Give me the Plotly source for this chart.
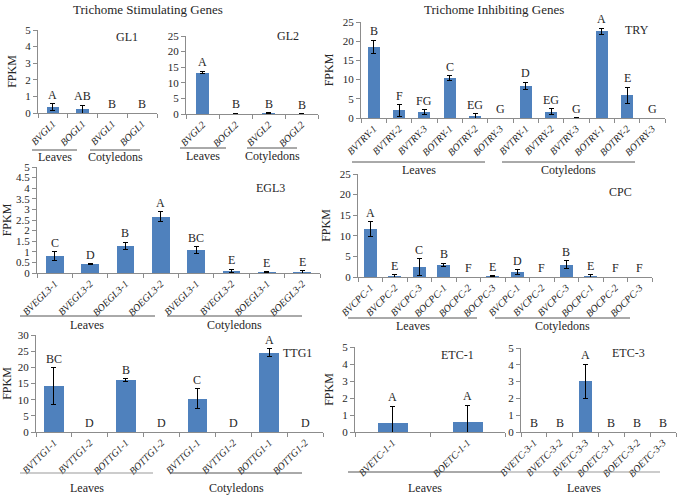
import plotly.graph_objects as go

W, H = 678, 496
BAR = "#4F81BD"
AX = "#8C8C8C"
TXT = "#262626"
SERIF = "Liberation Serif, Times New Roman, serif"

# ---------------- data ----------------
gl1_cats = ["BVGL1", "BOGL1", "BVGL1", "BOGL1"]
gl1_vals = [0.35, 0.22, 0.0, 0.0]
gl1_errs = [0.2, 0.24, 0.0, 0.0]
gl1_lets = ["A", "AB", "B", "B"]

gl2_cats = ["BVGL2", "BOGL2", "BVGL2", "BOGL2"]
gl2_vals = [13.3, 0.12, 0.3, 0.1]
gl2_errs = [0.4, 0.05, 0.1, 0.05]
gl2_lets = ["A", "B", "B", "B"]

try_cats = ["BVTRY-1", "BVTRY-2", "BVTRY-3", "BOTRY-1", "BOTRY-2", "BOTRY-3",
            "BVTRY-1", "BVTRY-2", "BVTRY-3", "BOTRY-1", "BOTRY-2", "BOTRY-3"]
try_vals = [18.5, 2.0, 1.6, 10.4, 0.5, 0.0, 8.3, 1.65, 0.05, 22.6, 5.9, 0.0]
try_errs = [1.8, 1.5, 0.6, 0.6, 0.6, 0.0, 1.0, 0.7, 0.0, 0.8, 2.1, 0.0]
try_lets = ["B", "F", "FG", "C", "EG", "G", "D", "EG", "G", "A", "E", "G"]

egl3_cats = ["BVEGL3-1", "BVEGL3-2", "BOEGL3-1", "BOEGL3-2",
             "BVEGL3-1", "BVEGL3-2", "BOEGL3-1", "BOEGL3-2"]
egl3_vals = [0.81, 0.42, 1.28, 2.66, 1.09, 0.10, 0.03, 0.05]
egl3_errs = [0.2, 0.01, 0.16, 0.23, 0.16, 0.08, 0.02, 0.06]
egl3_lets = ["C", "D", "B", "A", "BC", "E", "E", "E"]

cpc_cats = ["BVCPC-1", "BVCPC-2", "BVCPC-3", "BOCPC-1", "BOCPC-2", "BOCPC-3",
            "BVCPC-1", "BVCPC-2", "BVCPC-3", "BOCPC-1", "BOCPC-2", "BOCPC-3"]
cpc_vals = [11.6, 0.15, 2.35, 3.0, 0.0, 0.15, 1.2, 0.0, 3.0, 0.3, 0.0, 0.0]
cpc_errs = [1.8, 0.4, 2.1, 0.35, 0.0, 0.1, 0.55, 0.0, 0.95, 0.3, 0.0, 0.0]
cpc_lets = ["A", "E", "C", "B", "F", "E", "D", "F", "B", "E", "F", "F"]

ttg1_cats = ["BVTTG1-1", "BVTTG1-2", "BOTTG1-1", "BOTTG1-2",
             "BVTTG1-1", "BVTTG1-2", "BOTTG1-1", "BOTTG1-2"]
ttg1_vals = [14.2, 0.0, 16.0, 0.0, 10.3, 0.0, 24.5, 0.0]
ttg1_errs = [5.6, 0.0, 0.5, 0.0, 3.1, 0.0, 1.3, 0.0]
ttg1_lets = ["BC", "D", "B", "D", "C", "D", "A", "D"]

etc1_cats = ["BVETC-1-1", "BOETC-1-1"]
etc1_vals = [0.52, 0.58]
etc1_errs = [1.0, 1.0]
etc1_lets = ["A", "A"]

etc3_cats = ["BVETC-3-1", "BVETC-3-2", "BVETC-3-3", "BOETC-3-1", "BOETC-3-2", "BOETC-3-3"]
etc3_vals = [0.0, 0.0, 3.02, 0.0, 0.0, 0.0]
etc3_errs = [0.0, 0.0, 1.0, 0.0, 0.0, 0.0]
etc3_lets = ["B", "B", "A", "B", "B", "B"]

# ---------------- helpers ----------------
def fx(px):
    return px / W

def fy(py):
    return 1 - py / H

fig = go.Figure()
annotations = []
shapes = []
layout = {}


def add_panel(idx, cats, vals, errs, lets, box, yr, dtick, ytitle, gene, gene_pos, bw=0.5):
    x0, x1, ytop, yzero = box
    xname = "x" if idx == 1 else f"x{idx}"
    yname = "y" if idx == 1 else f"y{idx}"
    n = len(cats)
    pos = list(range(n))
    fig.add_trace(go.Bar(
        x=pos, y=vals, width=bw, marker=dict(color=BAR, line=dict(width=0)),
        error_y=dict(type="data", array=[e if e > 0 else None for e in errs],
                     color="black", thickness=1, width=2.5, visible=True),
        xaxis=xname, yaxis=yname, showlegend=False, hoverinfo="skip"))
    kx = "xaxis" if idx == 1 else f"xaxis{idx}"
    ky = "yaxis" if idx == 1 else f"yaxis{idx}"
    layout[kx] = dict(
        domain=[fx(x0), fx(x1)], anchor=yname, range=[-0.5, n - 0.5],
        automargin=False,
        tickmode="array", tickvals=pos, ticktext=[f"<i>{c}</i>" for c in cats],
        tickangle=-45, ticks="",
        showline=True, linecolor=AX, linewidth=1,
        showgrid=False, zeroline=False,
        tickfont=dict(family=SERIF, size=10, color=TXT),
        minor=dict(tickmode="array", tickvals=[p - 0.5 for p in pos] + [n - 0.5],
                   ticks="outside", ticklen=4, tickcolor=AX, showgrid=False),
        fixedrange=True)
    layout[ky] = dict(
        domain=[fy(yzero), fy(ytop)], anchor=xname, range=yr,
        automargin=False,
        tickmode="linear", tick0=0, dtick=dtick, ticks="outside", ticklen=4,
        tickcolor=AX, showline=True, linecolor=AX, linewidth=1,
        showgrid=False, zeroline=False,
        tickfont=dict(family=SERIF, size=11, color=TXT),
        title=dict(text="FPKM" if ytitle else "", standoff=6,
                   font=dict(family=SERIF, size=12, color=TXT)),
        fixedrange=True)
    for i in pos:
        annotations.append(dict(
            x=i, y=vals[i] + errs[i], xref=xname, yref=yname,
            text=lets[i], showarrow=False, yanchor="bottom", yshift=0,
            font=dict(family=SERIF, size=12, color=TXT)))
    annotations.append(dict(
        x=fx(gene_pos[0]), y=fy(gene_pos[1]), xref="paper", yref="paper",
        text=gene, showarrow=False, xanchor="center", yanchor="middle",
        font=dict(family=SERIF, size=12, color=TXT)))


add_panel(1, gl1_cats, gl1_vals, gl1_errs, gl1_lets, (38, 157, 30, 113), [0, 5], 1, True, "GL1", (127, 37), 0.42)
add_panel(2, gl2_cats, gl2_vals, gl2_errs, gl2_lets, (186, 318, 36, 114), [0, 25], 5, False, "GL2", (288, 36), 0.42)
add_panel(3, try_cats, try_vals, try_errs, try_lets, (361, 665, 22, 118), [0, 25], 5, True, "TRY", (637, 30), 0.48)
add_panel(4, egl3_cats, egl3_vals, egl3_errs, egl3_lets, (37, 320, 167, 273), [0, 5], 0.5, True, "EGL3", (270, 188), 0.5)
add_panel(5, cpc_cats, cpc_vals, cpc_errs, cpc_lets, (358, 652, 174, 277), [0, 25], 5, True, "CPC", (620, 192), 0.52)
add_panel(6, ttg1_cats, ttg1_vals, ttg1_errs, ttg1_lets, (36, 323, 335, 432), [0, 30], 5, True, "TTG1", (297, 353), 0.55)
add_panel(7, etc1_cats, etc1_vals, etc1_errs, etc1_lets, (355, 505, 347, 432), [0, 5], 1, True, "ETC-1", (457, 355), 0.4)
add_panel(8, etc3_cats, etc3_vals, etc3_errs, etc3_lets, (521, 676, 348, 432), [0, 5], 1, False, "ETC-3", (628, 353), 0.5)

# group underlines: (x0, x1, line_y, text, text_y, color)
groups = [
    (32, 77, 150, "Leaves", 157, "#555"),
    (90, 140, 150, "Cotyledons", 157, "#555"),
    (180, 226, 148, "Leaves", 156, "#555"),
    (247, 297, 148, "Cotyledons", 156, "#555"),
    (352, 485, 162, "Leaves", 170, "#555"),
    (502, 635, 162, "Cotyledons", 170, "#555"),
    (20, 155, 316, "Leaves", 325, "#555"),
    (167, 302, 316, "Cotyledons", 325, "#555"),
    (348, 477, 318, "Leaves", 326, "#555"),
    (495, 630, 318, "Cotyledons", 326, "#555"),
    (20, 153, 473, "Leaves", 488, "#999"),
    (170, 302, 473, "Cotyledons", 488, "#555"),
    (348, 502, 472, "Leaves", 488, "#555"),
    (507, 660, 472, "Leaves", 488, "#999"),
]
for gx0, gx1, gy, gt, ty, gc in groups:
    shapes.append(dict(type="line", xref="paper", yref="paper",
                       x0=fx(gx0), x1=fx(gx1), y0=fy(gy), y1=fy(gy),
                       line=dict(color=gc, width=1)))
    annotations.append(dict(x=fx((gx0 + gx1) / 2), y=fy(ty), xref="paper", yref="paper",
                            text=gt, showarrow=False, xanchor="center", yanchor="middle",
                            font=dict(family=SERIF, size=12, color=TXT)))

annotations.append(dict(x=fx(148), y=fy(9), xref="paper", yref="paper",
                        text="Trichome Stimulating Genes", showarrow=False,
                        xanchor="center", yanchor="middle",
                        font=dict(family=SERIF, size=13, color=TXT)))
annotations.append(dict(x=fx(494), y=fy(9), xref="paper", yref="paper",
                        text="Trichome Inhibiting Genes", showarrow=False,
                        xanchor="center", yanchor="middle",
                        font=dict(family=SERIF, size=13, color=TXT)))

fig.update_layout(
    width=W, height=H, margin=dict(l=0, r=0, t=0, b=0, autoexpand=False),
    paper_bgcolor="white", plot_bgcolor="white",
    annotations=annotations, shapes=shapes, bargap=0, **layout)

fig.write_html("out.html", config={"displayModeBar": False, "staticPlot": True},
               post_script="document.body.style.margin='0px';document.body.style.overflow='hidden';")
